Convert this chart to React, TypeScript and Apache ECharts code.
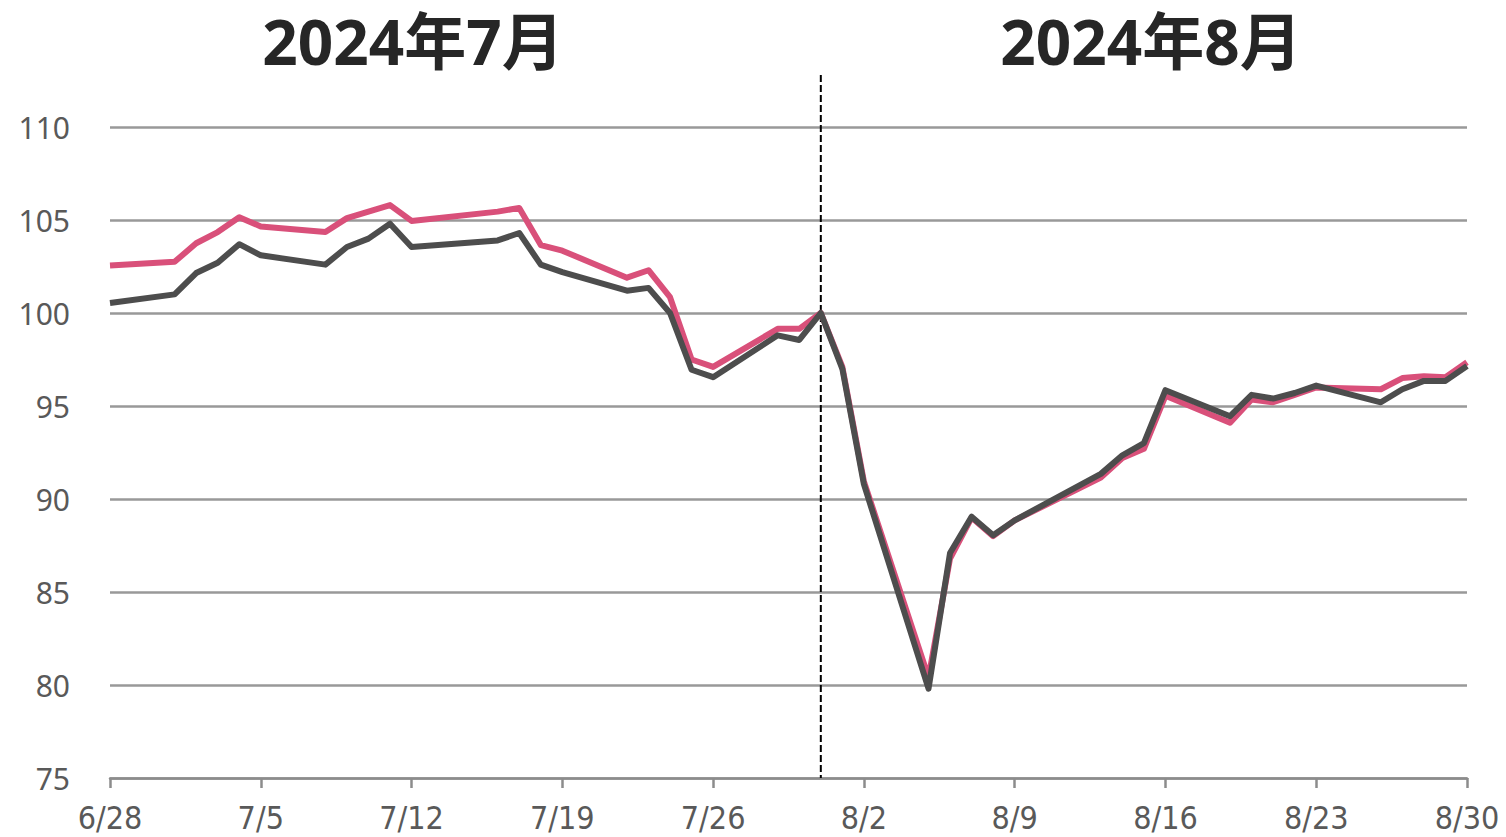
import React, { useEffect, useRef } from "react";
import * as echarts from "echarts";

// Trading days (2024)
const dates = [
  "2024-06-28",
  "2024-07-01", "2024-07-02", "2024-07-03", "2024-07-04", "2024-07-05",
  "2024-07-08", "2024-07-09", "2024-07-10", "2024-07-11", "2024-07-12",
  "2024-07-16", "2024-07-17", "2024-07-18", "2024-07-19",
  "2024-07-22", "2024-07-23", "2024-07-24", "2024-07-25", "2024-07-26",
  "2024-07-29", "2024-07-30", "2024-07-31", "2024-08-01", "2024-08-02",
  "2024-08-05", "2024-08-06", "2024-08-07", "2024-08-08", "2024-08-09",
  "2024-08-13", "2024-08-14", "2024-08-15", "2024-08-16",
  "2024-08-19", "2024-08-20", "2024-08-21", "2024-08-22", "2024-08-23",
  "2024-08-26", "2024-08-27", "2024-08-28", "2024-08-29", "2024-08-30",
];

// Pink series (indexed, 7/31 = 100)
const pinkValues = [
  102.55,
  102.75, 103.75, 104.35, 105.15, 104.65,
  104.35, 105.1, 105.45, 105.8, 104.95,
  105.45, 105.65, 103.65, 103.35,
  101.9, 102.3, 100.85, 97.5, 97.1,
  99.15, 99.15, 100, 97.1, 90.95,
  80.4, 86.8, 89.0, 88.0, 88.85,
  91.15, 92.2, 92.7, 95.55,
  94.1, 95.35, 95.2, 95.6, 96.0,
  95.9, 96.5, 96.6, 96.55, 97.35,
];

// Dark grey series (indexed, 7/31 = 100)
const greyValues = [
  100.54,
  101.0, 102.15, 102.7, 103.7, 103.1,
  102.6, 103.55, 104.0, 104.8, 103.55,
  103.9, 104.3, 102.6, 102.2,
  101.2, 101.35, 100.0, 96.95, 96.55,
  98.8, 98.55, 100, 97.0, 90.8,
  79.8, 87.1, 89.05, 88.05, 88.85,
  91.35, 92.35, 93.0, 95.85,
  94.45, 95.6, 95.4, 95.7, 96.1,
  95.2, 95.9, 96.35, 96.35, 97.15,
];

const xTickLabels = ["6/28", "7/5", "7/12", "7/19", "7/26", "8/2", "8/9", "8/16", "8/23", "8/30"];
const monthTitles = ["2024年7月", "2024年8月"];
const startDate = "2024-06-28";
const endDate = "2024-08-30";
const dividerDate = "2024-07-31";

const DAY = 86400000;
const dayIndex = (s: string) =>
  Math.round((Date.parse(s + "T00:00:00Z") - Date.parse(startDate + "T00:00:00Z")) / DAY);

export default function App() {
  const ref = useRef<HTMLDivElement>(null);

  useEffect(() => {
    if (!ref.current) return;
    const chart = echarts.init(ref.current, null, { renderer: "svg" });
    const pinkData = dates.map((d, i) => [dayIndex(d), pinkValues[i]]);
    const greyData = dates.map((d, i) => [dayIndex(d), greyValues[i]]);

    chart.setOption({
      animation: false,
      backgroundColor: "#ffffff",
      grid: { left: 110, right: 39, top: 127, bottom: 59, containLabel: false },
      xAxis: {
        type: "value",
        min: 0,
        max: dayIndex(endDate),
        interval: 7,
        axisLine: { show: true, lineStyle: { color: "#8c8c8c", width: 2.5 } },
        axisTick: { show: true, length: 10, lineStyle: { color: "#8c8c8c", width: 2.5 } },
        splitLine: { show: false },
        axisLabel: {
          margin: 24,
          fontSize: 32,
          color: "#595959",
          fontFamily: "'Liberation Sans Narrow', 'DejaVu Sans Condensed', 'Liberation Sans', sans-serif",
          formatter: (v: number) => xTickLabels[Math.round(v / 7)] ?? "",
          showMinLabel: true,
          showMaxLabel: true,
        },
      },
      yAxis: {
        type: "value",
        min: 75,
        max: 110,
        interval: 5,
        axisLine: { show: false },
        axisTick: { show: false },
        splitLine: { show: true, lineStyle: { color: "#999999", width: 2.5 } },
        axisLabel: {
          margin: 40,
          fontSize: 30,
          color: "#595959",
          fontFamily: "'Noto Sans', 'Open Sans', sans-serif",
        },
      },
      series: [
        {
          type: "line",
          data: pinkData,
          symbol: "none",
          lineStyle: { color: "#d9507a", width: 6, join: "round" },
          z: 3,
        },
        {
          type: "line",
          data: greyData,
          symbol: "none",
          lineStyle: { color: "#4d4d4d", width: 6, join: "round" },
          z: 4,
        },
      ],
    });

    const [px, pyBottom] = chart.convertToPixel({ gridIndex: 0 }, [dayIndex(dividerDate), 75]) as number[];
    const titleStyle = {
      fontSize: 62,
      fontWeight: "bold",
      fontFamily: "'Noto Sans', 'Noto Sans CJK JP', sans-serif",
      fill: "#262626",
      align: "center",
      verticalAlign: "top",
      lineHeight: 62,
    };
    chart.setOption({
      graphic: [
        {
          type: "line",
          z: 1,
          shape: { x1: px, y1: 75, x2: px, y2: pyBottom },
          style: { stroke: "#000000", lineWidth: 2, lineDash: [7, 3] },
        },
        {
          type: "text",
          x: 413,
          y: 10,
          style: { ...titleStyle, text: monthTitles[0] },
        },
        {
          type: "text",
          x: 1151,
          y: 10,
          style: { ...titleStyle, text: monthTitles[1] },
        },
      ],
    });

    return () => chart.dispose();
  }, []);

  return (
    <div
      ref={ref}
      style={{ position: "fixed", left: 0, top: 0, width: 1506, height: 837, background: "#fff" }}
    />
  );
}
